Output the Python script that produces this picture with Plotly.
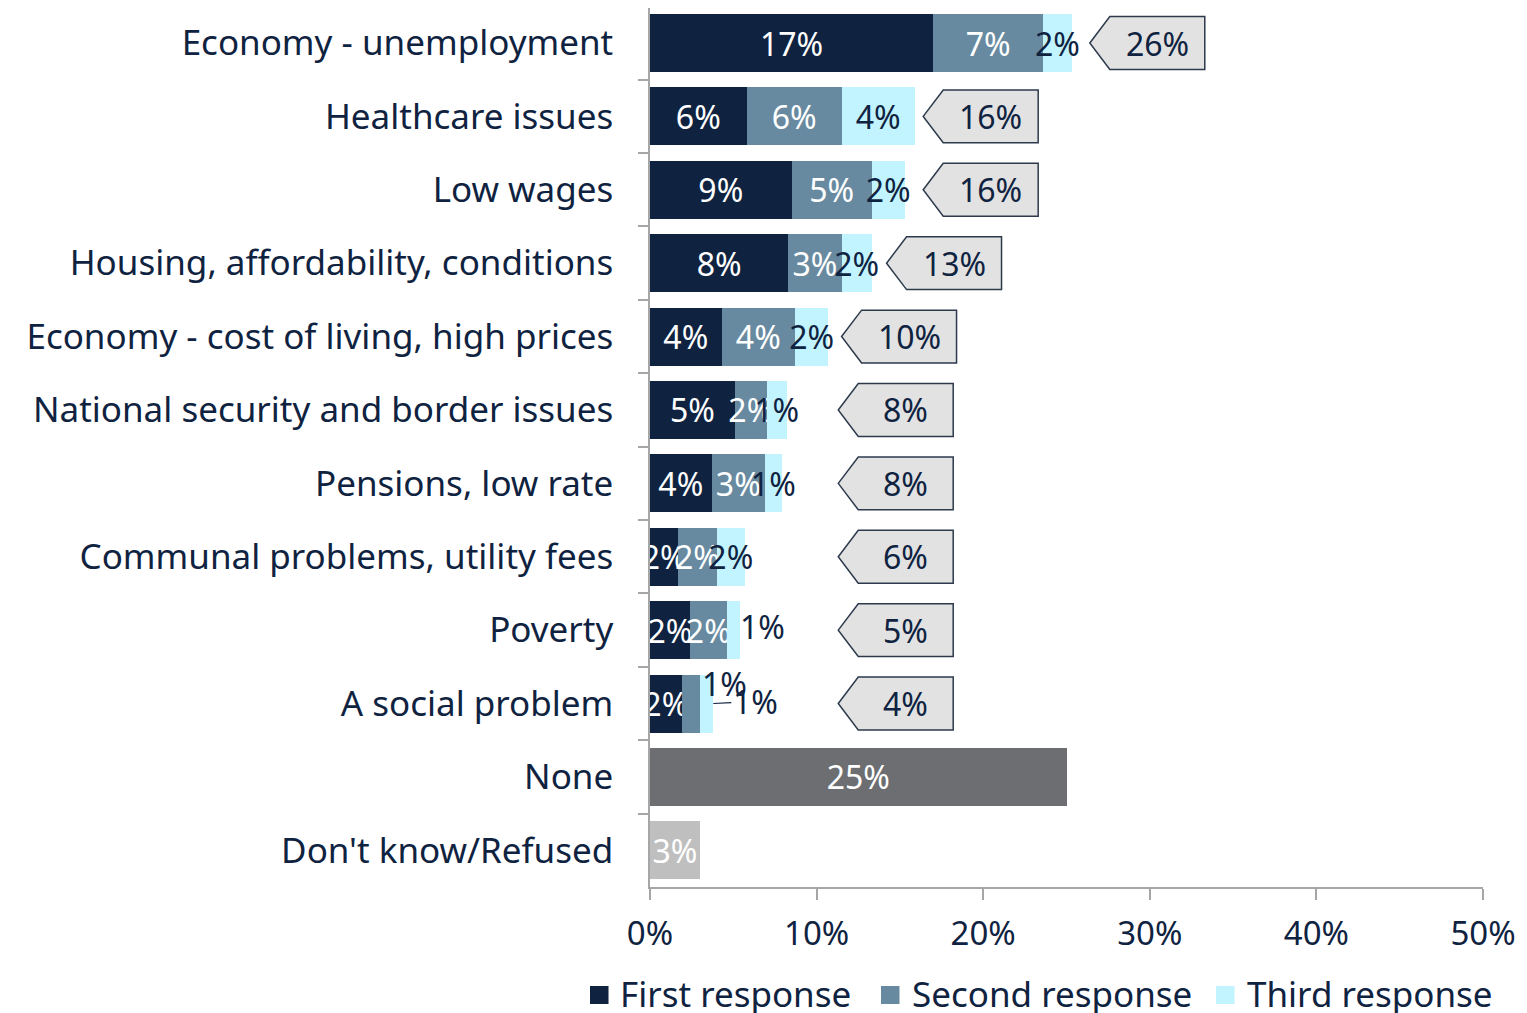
import plotly.graph_objects as go

categories = [
    "Economy - unemployment",
    "Healthcare issues",
    "Low wages",
    "Housing, affordability, conditions",
    "Economy - cost of living, high prices",
    "National security and border issues",
    "Pensions, low rate",
    "Communal problems, utility fees",
    "Poverty",
    "A social problem",
    "None",
    "Don't know/Refused",
]

first = [17.0, 5.8, 8.5, 8.3, 4.3, 5.1, 3.7, 1.7, 2.4, 1.9]
second = [6.6, 5.7, 4.8, 3.2, 4.4, 1.9, 3.2, 2.3, 2.2, 1.1]
third = [1.7, 4.4, 2.0, 1.8, 2.0, 1.2, 1.0, 1.7, 0.8, 0.8]
first_lbl = ["17%", "6%", "9%", "8%", "4%", "5%", "4%", "2%", "2%", "2%"]
second_lbl = ["7%", "6%", "5%", "3%", "4%", "2%", "3%", "2%", "2%", "1%"]
third_lbl = ["2%", "4%", "2%", "2%", "2%", "1%", "1%", "2%", "1%", "1%"]
totals = [26, 16, 16, 13, 10, 8, 8, 6, 5, 4]

none_val = 25.0
dk_val = 3.0

NAVY = "#0f2341"
SLATE = "#688aa0"
CYAN = "#c2f4ff"
FONT = "Noto Sans"
LBL = 32

resp_cats = categories[:10]

# labels Excel pushed out of the tiny segments (Poverty third, A social problem second/third)
moved = {("third", "Poverty"), ("second", "A social problem"), ("third", "A social problem")}


def seg_text(key, lbls):
    return ["" if (key, c) in moved else t for c, t in zip(resp_cats, lbls)]


fig = go.Figure()

for key, vals, lbls, color, tcolor in [
    ("first", first, first_lbl, NAVY, "white"),
    ("second", second, second_lbl, SLATE, "white"),
    ("third", third, third_lbl, CYAN, NAVY),
]:
    fig.add_trace(go.Bar(
        y=resp_cats, x=vals, orientation="h",
        marker=dict(color=color, line=dict(width=0)),
        text=seg_text(key, lbls), textposition="inside", insidetextanchor="middle",
        textangle=0, constraintext="none",
        textfont=dict(color=tcolor, size=LBL, family=FONT),
        width=0.79, showlegend=False, hoverinfo="skip",
    ))

fig.add_trace(go.Bar(
    y=["None"], x=[none_val], orientation="h",
    marker=dict(color="#6d6e71", line=dict(width=0)),
    text=[f"{none_val:.0f}%"], textposition="inside", insidetextanchor="middle",
    textangle=0, constraintext="none",
    textfont=dict(color="white", size=LBL, family=FONT),
    width=0.79, showlegend=False, hoverinfo="skip",
))
fig.add_trace(go.Bar(
    y=["Don't know/Refused"], x=[dk_val], orientation="h",
    marker=dict(color="#bfbfbf", line=dict(width=0)),
    text=[f"{dk_val:.0f}%"], textposition="inside", insidetextanchor="middle",
    textangle=0, constraintext="none",
    textfont=dict(color="white", size=LBL, family=FONT),
    width=0.79, showlegend=False, hoverinfo="skip",
))

# moved labels
pov = resp_cats.index("Poverty")
soc = resp_cats.index("A social problem")
pov_end = first[pov] + second[pov] + third[pov]
fig.add_annotation(x=pov_end, y=pov, xref="x", yref="y", xanchor="left", yshift=4, xshift=-2,
                   text=third_lbl[pov], showarrow=False,
                   font=dict(size=LBL, color=NAVY, family=FONT))
soc_end = first[soc] + second[soc] + third[soc]
fig.add_annotation(x=soc_end + 0.7, y=soc, xref="x", yref="y", yshift=20,
                   text=second_lbl[soc], showarrow=False,
                   font=dict(size=LBL, color=NAVY, family=FONT))
fig.add_annotation(x=soc_end, y=soc, xref="x", yref="y", ax=42, ay=-2,
                   text=third_lbl[soc], showarrow=True, arrowhead=0, arrowwidth=1.2,
                   arrowcolor=NAVY, standoff=0,
                   font=dict(size=LBL, color=NAVY, family=FONT))

# callout arrows with totals
arrow_w = 1.2
box_w = 5.7
half_h = 0.36
for i, t in enumerate(totals):
    label_end = first[i] + second[i] + third[i] / 2 + 1.8
    tip = max(t + 0.4, 11.3, label_end)
    path = (
        f"M {tip},{i} L {tip + arrow_w},{i - half_h} L {tip + arrow_w + box_w},{i - half_h} "
        f"L {tip + arrow_w + box_w},{i + half_h} L {tip + arrow_w},{i + half_h} Z"
    )
    fig.add_shape(type="path", path=path, xref="x", yref="y",
                  fillcolor="#e2e2e2", line=dict(color="#2c3a4c", width=1.5))
    fig.add_annotation(x=tip + arrow_w + box_w / 2, y=i, xref="x", yref="y",
                       text=f"{t}%", showarrow=False,
                       font=dict(size=LBL, color=NAVY, family=FONT))

# legend drawn by hand (squares + text)
legend_items = [
    ("First response", NAVY, -0.0720, -0.0384),
    ("Second response", SLATE, 0.2773, 0.3121),
    ("Third response", CYAN, 0.6795, 0.7143),
]
for name, color, xs, xt in legend_items:
    fig.add_shape(type="rect", xref="paper", yref="paper",
                  x0=xs, x1=xs + 0.0222, y0=-0.1331, y1=-0.1126,
                  fillcolor=color, line=dict(width=0))
    fig.add_annotation(
        x=xt, y=-0.1212, xref="paper", yref="paper", xanchor="left", yanchor="middle",
        text=name, showarrow=False,
        font=dict(size=35, color=NAVY, family=FONT),
    )

fig.update_layout(
    width=1519, height=1005,
    margin=dict(l=642, r=44, t=0, b=126),
    plot_bgcolor="white", paper_bgcolor="white",
    barmode="stack", showlegend=False,
    font=dict(family=FONT, color=NAVY, size=33),
    xaxis=dict(
        range=[0, 50], dtick=10, ticksuffix="%", showgrid=False, zeroline=False,
        showline=True, linecolor="#a6a6a6", linewidth=1.5,
        ticks="outside", ticklen=11, tickcolor="#a6a6a6", tickwidth=1.5,
        tickfont=dict(size=33, color=NAVY), ticklabelstandoff=6, fixedrange=True,
    ),
    yaxis=dict(
        range=[11.5, -0.477], showgrid=False, zeroline=False,
        showline=True, linecolor="#a6a6a6", linewidth=1.5,
        ticks="outside", ticklen=10, tickcolor="#a6a6a6", tickwidth=1.5, tickson="boundaries",
        tickfont=dict(size=35, color=NAVY), ticklabelstandoff=28,
        categoryorder="array", categoryarray=categories, fixedrange=True,
    ),
)

fig.write_html("out.html")
